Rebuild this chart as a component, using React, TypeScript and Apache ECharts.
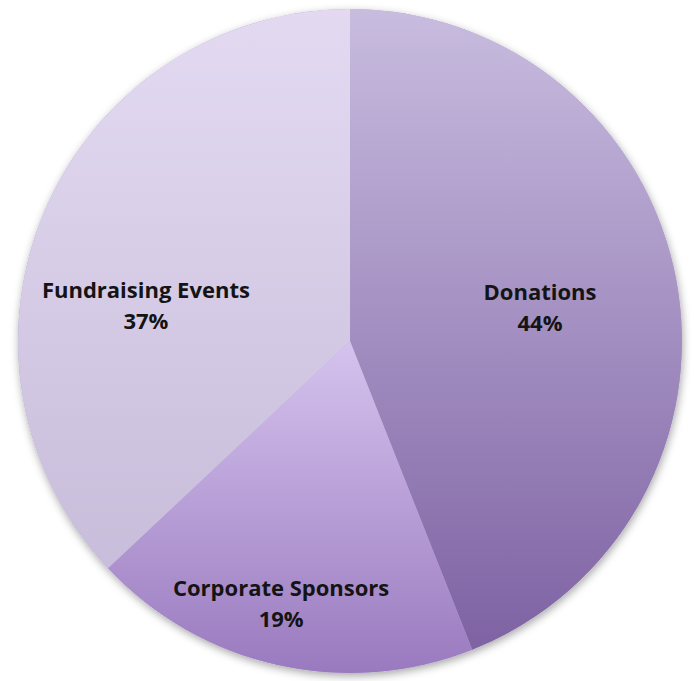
import React, { useEffect, useRef } from "react";
import * as echarts from "echarts";

const categories = ["Donations", "Corporate Sponsors", "Fundraising Events"];
const values = [44, 19, 37];
const topColors = ["#c8bcdf", "#d5c3ee", "#e3daf2"];
const bottomColors = ["#7e62a3", "#9a7abf", "#c8bdda"];
const labelOffsets = [[24, -3], [-32, 97], [-49, 31]];

export default function App() {
  const ref = useRef<HTMLDivElement>(null);
  useEffect(() => {
    const chart = echarts.init(ref.current!, null, { renderer: "svg" });
    const data = categories.map((name, i) => ({
      name,
      value: values[i],
      itemStyle: {
        color: new echarts.graphic.LinearGradient(0, 0, 0, 1, [
          { offset: 0, color: topColors[i] },
          { offset: 1, color: bottomColors[i] },
        ]),
      },
      label: { offset: labelOffsets[i] },
    }));
    chart.setOption({
      animation: false,
      backgroundColor: "#ffffff",
      series: [
        {
          type: "pie",
          silent: true,
          center: [350, 341],
          radius: 332,
          z: 1,
          label: { show: false },
          labelLine: { show: false },
          itemStyle: {
            color: "#b8a8d0",
            shadowBlur: 8,
            shadowColor: "rgba(0,0,0,0.35)",
            shadowOffsetX: 1,
            shadowOffsetY: 3,
          },
          data: [{ value: 1, name: "shadow" }],
        },
        {
          type: "pie",
          center: [350, 341],
          radius: 332,
          startAngle: 90,
          clockwise: true,
          z: 2,
          itemStyle: { borderWidth: 0 },
          label: {
            show: true,
            position: "inside",
            formatter: (p: any) => `${p.name}\n${p.value}%`,
            fontFamily: "Open Sans",
            fontWeight: "bold",
            fontSize: 22,
            lineHeight: 31,
            color: "#141414",
            align: "center",
          },
          labelLine: { show: false },
          data,
        },
      ],
    });
    return () => chart.dispose();
  }, []);
  return (
    <div
      ref={ref}
      style={{ position: "fixed", left: 0, top: 0, width: 695, height: 681 }}
    />
  );
}
